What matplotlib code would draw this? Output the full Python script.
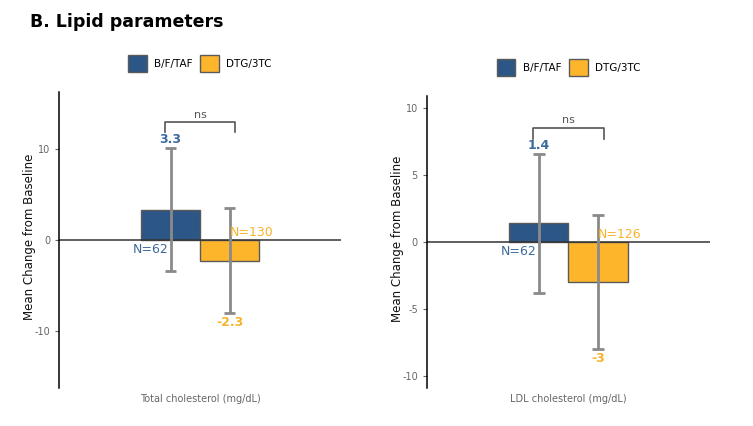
import matplotlib.pyplot as plt
from matplotlib.patches import Patch

plt.rcParams['font.family'] = ['DejaVu Sans']
plt.rcParams['axes.unicode_minus'] = False

# 数据
groups = ['B/F/TAF', 'DTG/3TC']
n_labels = [['N=62', 'N=130'], ['N=62', 'N=126']]
panels = ['Total cholesterol (mg/dL)', 'LDL cholesterol (mg/dL)']
means = [[3.3, -2.3], [1.4, -3.0]]
mean_labels = [['3.3', '-2.3'], ['1.4', '-3']]
err_hi = [[10.2, 3.5], [6.6, 2.0]]
err_lo = [[-3.4, -8.1], [-3.8, -8.0]]
sig_text = ['ns', 'ns']
bracket_top = [13.0, 8.5]
bracket_leg = [11.9, 7.7]
ylims = [16.35, 10.9]
yticks = [[-10, 0, 10], [-10, -5, 0, 5, 10]]

bar_colors = ['#2c5686', '#fdb52b']
text_colors = ['#3d6a9c', '#f8b32c']
edge = '#5a5a5a'
err_color = '#8a8a8a'

fig = plt.figure(figsize=(7.53, 4.26), dpi=100)
axes = [fig.add_axes([0.0784, 0.0892, 0.3745, 0.6948]),
        fig.add_axes([0.567, 0.0892, 0.3758, 0.6854])]

pos = [-0.225, 0.225]
w = 0.45
for k, ax in enumerate(axes):
    for i in range(2):
        ax.bar(pos[i], means[k][i], width=w, color=bar_colors[i],
               edgecolor=edge, linewidth=1.0, zorder=2)
        ax.vlines(pos[i], err_lo[k][i], err_hi[k][i], color=err_color,
                  linewidth=2, zorder=3)
        for yv in (err_lo[k][i], err_hi[k][i]):
            ax.hlines(yv, pos[i] - 0.045, pos[i] + 0.045, color=err_color,
                      linewidth=2, zorder=3)
    ax.axhline(0, color='#333333', linewidth=1.1, zorder=2.5)

    # 数值标签
    ax.annotate(mean_labels[k][0], (pos[0], err_hi[k][0]), xytext=(0, 1.5),
                textcoords='offset points', ha='center', va='bottom',
                color=text_colors[0], fontsize=9, fontweight='bold')
    ax.annotate(mean_labels[k][1], (pos[1], err_lo[k][1]), xytext=(0, -2),
                textcoords='offset points', ha='center', va='top',
                color=text_colors[1], fontsize=9, fontweight='bold')
    ax.annotate(n_labels[k][0], (-0.38, 0), xytext=(0, -2),
                textcoords='offset points', ha='center', va='top',
                color=text_colors[0], fontsize=9)
    ax.annotate(n_labels[k][1], (0.39, 0), xytext=(0, 1),
                textcoords='offset points', ha='center', va='bottom',
                color=text_colors[1], fontsize=9)

    # 显著性括号
    bx = [-0.27, -0.27, 0.27, 0.27]
    by = [bracket_leg[k], bracket_top[k], bracket_top[k], bracket_leg[k]]
    ax.plot(bx, by, color='#555555', linewidth=1.2)
    ax.annotate(sig_text[k], (0, bracket_top[k]), xytext=(0, 2),
                textcoords='offset points', ha='center', va='bottom',
                color='#555555', fontsize=8)

    ax.set_xlim(-1.076, 1.076)
    ax.set_ylim(-ylims[k], ylims[k])
    ax.set_yticks(yticks[k])
    ax.set_xticks([])
    for s in ['top', 'right', 'bottom']:
        ax.spines[s].set_visible(False)
    ax.spines['left'].set_linewidth(1.1)
    ax.tick_params(axis='y', colors='#666666', labelsize=7, length=3, width=0.8)
    ax.set_ylabel('Mean Change from Baseline', fontsize=8.5, color='#111111')
    ax.yaxis.set_label_coords(-0.082, 0.51)
    ax.set_xlabel(panels[k], fontsize=7, color='#666666', labelpad=4)

    handles = [Patch(facecolor=bar_colors[i], edgecolor=edge, label=groups[i])
               for i in range(2)]
    ax.legend(handles=handles, loc='center', bbox_to_anchor=(0.5, 1.097),
              ncol=2, frameon=False, fontsize=7.5, handlelength=1.8,
              handleheight=2.2, handletextpad=0.68, columnspacing=0.75)

fig.text(0.04, 0.948, 'B. Lipid parameters', fontsize=12.5, fontweight='bold',
         va='center', ha='left')

plt.savefig('out.png', dpi=100)
